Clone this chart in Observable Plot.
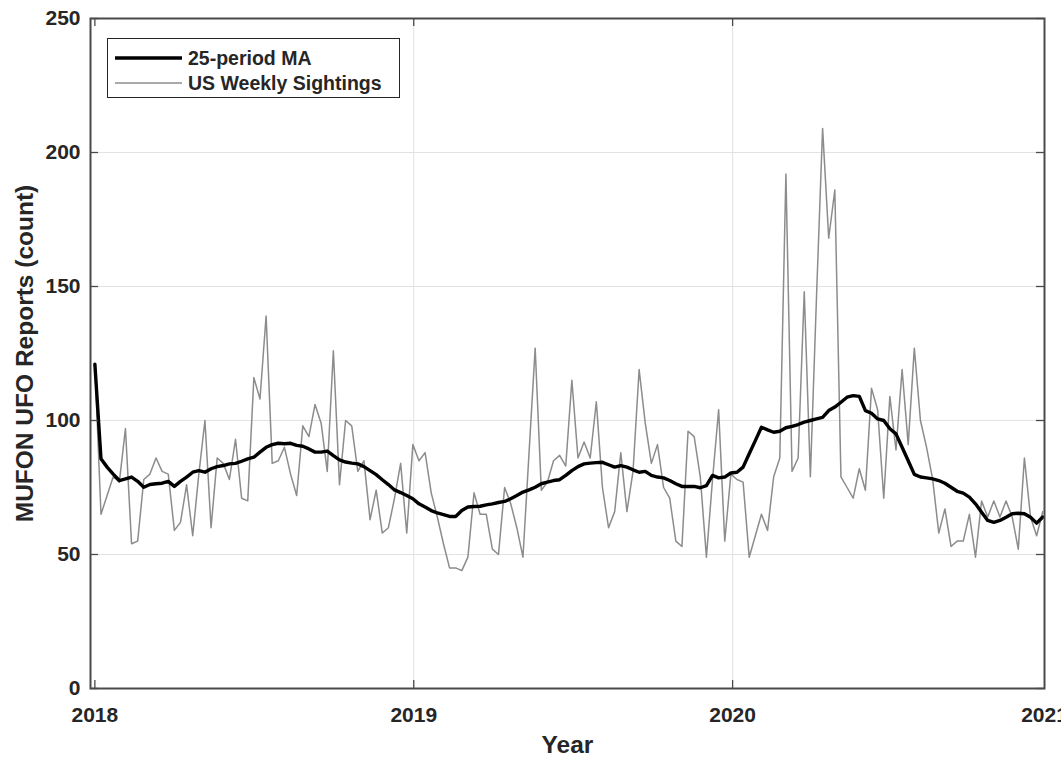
<!DOCTYPE html>
<html>
<head>
<meta charset="utf-8">
<script src="https://cdn.jsdelivr.net/npm/d3@7"></script>
<script src="https://cdn.jsdelivr.net/npm/@observablehq/plot@0.6"></script>
<style>
  html, body { margin: 0; padding: 0; background: #fff; }
  #wrap { position: relative; width: 1061px; height: 759px; overflow: hidden;
          font-family: "Liberation Sans", Arial, sans-serif; font-weight: bold; color: #262626; }
  #legend { position: absolute; left: 107px; top: 38px; width: 293px; height: 60px; box-sizing: border-box;
            border: 1.5px solid #262626; background: #fff; }
  .row { position: absolute; left: 0; height: 24px; display: flex; align-items: center; }
  .row svg { margin-left: 7px; }
  .row span { margin-left: 6px; font-size: 19.5px; line-height: 24px; white-space: nowrap; }
</style>
</head>
<body>
<div id="wrap"></div>
<script>
// ---- data ----
const startDate = "2018-01-01";           // first weekly observation
const weekly = [
  121, 65, 72, 79, 77, 97, 54, 55, 78, 80, 86, 81, 80, 59, 62, 76, 57, 80, 100, 60, 86, 84, 78, 93, 71, 70,
  116, 108, 139, 84, 85, 90, 80, 72, 98, 94, 106, 99, 81, 126, 76, 100, 98, 81, 85, 63, 74, 58, 60, 71, 84, 58,
  91, 85, 88, 73, 64, 54, 45, 45, 44, 49, 73, 65, 65, 52, 50, 75, 69, 60, 49, 88, 127, 74, 77, 85, 87, 83,
  115, 86, 92, 86, 107, 75, 60, 66, 88, 66, 81, 119, 99, 84, 91, 75, 71, 55, 53, 96, 94, 79, 49, 78, 104, 55,
  80, 78, 77, 49, 57, 65, 59, 79, 86, 192, 81, 86, 148, 79, 146, 209, 168, 186, 79, 75, 71, 82, 74, 112, 104,
  71, 109, 89, 119, 91, 127, 100, 90, 78, 58, 67, 53, 55, 55, 65, 49, 70, 64, 70, 64, 70, 64, 52, 86, 64, 57, 66
];
const movingAvg = [
  121, 85.7, 82.6, 80, 77.6, 78.2, 78.9, 77.3, 75.1, 76.1, 76.4, 76.6, 77.3, 75.4, 77.3, 78.9, 80.7, 81.3, 80.7, 82, 82.8, 83.2, 83.8, 84, 84.8, 85.7,
  86.3, 88.2, 90, 91, 91.5, 91.3, 91.5, 90.7, 90.4, 89.4, 88.2, 88.2, 88.6, 86.9, 85.3, 84.5, 84.1, 83.8, 82.8, 81.3, 79.8, 77.9, 76.1, 74.1, 73.1, 72,
  70.8, 68.9, 67.7, 66.4, 65.5, 64.9, 64.2, 64.2, 66.4, 67.7, 67.9, 68, 68.5, 68.9, 69.4, 69.8, 70.8, 72, 73.3, 74.1, 75.1, 76.4, 77, 77.6, 77.9, 79.5,
  81.3, 82.8, 83.8, 84.1, 84.3, 84.4, 83.5, 82.6, 83.2, 82.6, 81.6, 80.7, 81, 79.5, 78.9, 78.6, 77.6, 76.4, 75.4, 75.4, 75.4, 74.9, 75.7, 79.5, 78.6, 78.9,
  80.4, 80.7, 82.6, 87.6, 92.5, 97.5, 96.5, 95.6, 96, 97.3, 97.8, 98.5, 99.4, 100, 100.6, 101.2, 103.7, 105, 106.8, 108.7, 109.3, 109, 103.7, 102.7, 100.6,
  100, 96.9, 95, 90, 85, 79.9, 78.9, 78.6, 78.2, 77.6, 76.6, 75.1, 73.6, 72.9, 71.4, 68.9, 65.8, 62.7, 62, 62.7, 63.9, 65.2, 65.4, 65.2, 63.9, 61.7, 64
];
const seriesNames = ["25-period MA", "US Weekly Sightings"];
const yTicks = [0, 50, 100, 150, 200, 250];
const xTickLabels = ["2018", "2019", "2020", "2021"];
const xDomain = ["2017-12-27", "2020-12-23"];
const xLabel = "Year";
const yLabel = "MUFON UFO Reports (count)";

// ---- build table ----
const t0 = new Date(startDate + "T00:00:00Z");
const rows = weekly.map((v, i) => ({
  date: new Date(t0.getTime() + i * 7 * 864e5),
  count: v,
  ma: movingAvg[i]
}));
const xTickDates = xTickLabels.map(s => new Date(s + "-01-01T00:00:00Z"));
const domain = xDomain.map(s => new Date(s + "T00:00:00Z"));
const inDomainTicks = xTickDates.filter(d => d >= domain[0] && d <= domain[1]);

const W = 1061, H = 759, mL = 90, mR = 17, mT = 18, mB = 71;
const plotW = W - mL - mR, plotH = H - mT - mB;
const gridColor = "#e2e2e2", frameColor = "#4a4a4a", tickLen = 8;

const chart = Plot.plot({
  width: W, height: H,
  marginLeft: mL, marginRight: mR, marginTop: mT, marginBottom: mB,
  style: { fontFamily: "'Liberation Sans', Arial, sans-serif", fontWeight: "bold", fontSize: "21px", color: "#262626", background: "#fff" },
  x: { type: "utc", domain },
  y: { domain: [yTicks[0], yTicks[yTicks.length - 1]] },
  marks: [
    // grid
    Plot.ruleY(yTicks.slice(1, -1), { stroke: gridColor, strokeWidth: 1 }),
    Plot.ruleX(inDomainTicks.slice(1), { stroke: gridColor, strokeWidth: 1 }),
    // data
    Plot.line(rows, { x: "date", y: "count", stroke: "#8c8c8c", strokeWidth: 1.5 }),
    Plot.line(rows, { x: "date", y: "ma", stroke: "#000", strokeWidth: 3.4, strokeLinejoin: "round" }),
    // inward ticks on all four sides
    Plot.tickX(inDomainTicks, { x: d => d, insetTop: plotH - tickLen, stroke: frameColor, strokeWidth: 1.3 }),
    Plot.tickX(inDomainTicks, { x: d => d, insetBottom: plotH - tickLen, stroke: frameColor, strokeWidth: 1.3 }),
    Plot.tickY(yTicks, { y: d => d, insetRight: plotW - tickLen, stroke: frameColor, strokeWidth: 1.3 }),
    Plot.tickY(yTicks, { y: d => d, insetLeft: plotW - tickLen, stroke: frameColor, strokeWidth: 1.3 }),
    Plot.frame({ stroke: frameColor, strokeWidth: 2 }),
    // tick labels
    Plot.axisX({ ticks: inDomainTicks, tickFormat: d3.utcFormat("%Y"), tickSize: 0, tickPadding: 19, label: null }),
    Plot.axisY({ ticks: yTicks, tickSize: 0, tickPadding: 10, label: null }),
    Plot.text([xTickLabels[xTickLabels.length - 1]], { frameAnchor: "bottom-right", textAnchor: "middle", lineAnchor: "middle", dy: 27 }),
    // axis titles
    Plot.text([xLabel], { frameAnchor: "bottom", textAnchor: "middle", lineAnchor: "middle", dy: 57, fontSize: 24.5 }),
    Plot.text([yLabel], { frameAnchor: "left", textAnchor: "middle", lineAnchor: "middle", rotate: -90, dx: -65, fontSize: 24.5 })
  ]
});

const wrap = document.getElementById("wrap");
wrap.appendChild(chart);

// legend overlay (inside the axes, top-left)
const legend = document.createElement("div");
legend.id = "legend";
const legendStyles = [
  { stroke: "#000", width: 3.4 },
  { stroke: "#8c8c8c", width: 1.5 }
];
seriesNames.forEach((name, i) => {
  const row = document.createElement("div");
  row.className = "row";
  row.style.top = (7 + i * 25) + "px";
  row.innerHTML = `<svg width="67" height="24"><line x1="0" x2="67" y1="12" y2="12" stroke="${legendStyles[i].stroke}" stroke-width="${legendStyles[i].width}"/></svg><span>${name}</span>`;
  legend.appendChild(row);
});
wrap.appendChild(legend);
</script>
</body>
</html>
